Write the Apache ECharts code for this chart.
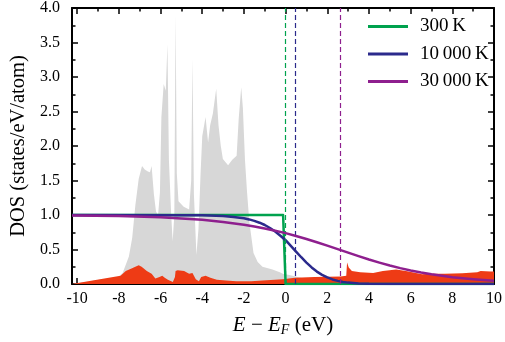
<!DOCTYPE html>
<html>
<head>
<meta charset="utf-8">
<script src="https://cdn.jsdelivr.net/npm/echarts@6/dist/echarts.min.js"></script>
<style>
  html, body { margin: 0; padding: 0; background: #fff; }
  #chart { width: 505px; height: 342px; }
</style>
</head>
<body>
<div id="chart"></div>
<script>
// total DOS (grey)
var dosE = [-10.25, -8.03, -7.82, -7.67, -7.52, -7.36, -7.21, -7.05, -6.89, -6.76, -6.61, -6.51, -6.43, -6.32, -6.22, -6.12,
  -6.03, -5.96, -5.85, -5.75, -5.67, -5.6, -5.49, -5.42, -5.34, -5.28, -5.22, -5.14, -4.89, -4.63, -4.53, -4.47, -4.4,
  -4.28, -4.18, -4.08, -4.0, -3.84, -3.72, -3.62, -3.49, -3.33, -3.22, -3.11, -3.01, -2.76, -2.56, -2.35, -2.25, -2.13,
  -2.05, -1.95, -1.85, -1.74, -1.54, -1.34, -1.11, -0.63, -0.28, -0.13, 0.18, 0.58, 0.89, 1.19, 1.9, 10]
var dosTotal = [0, 0.1, 0.16, 0.28, 0.4, 0.67, 1.14, 1.52, 1.71, 1.66, 1.63, 1.62, 1.71, 1.3, 1.05, 1.0,
  1.33, 2.42, 2.9, 2.8, 3.47, 1.8, 1.0, 0.62, 1.0, 3.9, 1.6, 1.2, 1.12, 1.08, 1.5, 3.26, 1.3,
  0.42, 0.8, 1.6, 2.14, 2.42, 2.05, 2.3, 2.47, 2.83, 2.3, 2.0, 1.81, 1.72, 1.8, 1.86, 2.4, 2.85,
  2.55, 1.8, 1.33, 0.9, 0.45, 0.32, 0.25, 0.21, 0.17, 0.15, 0.13, 0.1, 0.08, 0.05, 0.04, 0.04]

// partial DOS (red)
var pdosE = [-10.25, -7.92, -7.67, -7.42, -7.21, -7.05, -6.91, -6.66, -6.43, -6.25, -6.19, -6.05, -5.92, -5.8, -5.65,
  -5.41, -5.31, -5.28, -5.18, -4.87, -4.63, -4.47, -4.31, -4.16, -4.05, -3.84, -3.61, -3.3, -2.86, -2.36, -1.65,
  -1.11, -0.13, 0.45, 1.39, 2.64, 2.91, 2.95, 3.03, 3.18, 3.58, 4.2, 4.67, 4.99, 5.3, 5.77, 6.07, 6.55, 6.96,
  7.64, 8.48, 9.2, 9.36, 9.83, 10]
var pdosValues = [0, 0.12, 0.19, 0.22, 0.25, 0.27, 0.25, 0.19, 0.15, 0.08, 0.07, 0.1, 0.12, 0.09, 0.06,
  0.03, 0.1, 0.19, 0.2, 0.19, 0.15, 0.16, 0.07, 0.04, 0.1, 0.12, 0.09, 0.06, 0.05, 0.04, 0.04,
  0.05, 0.07, 0.09, 0.1, 0.11, 0.12, 0.31, 0.24, 0.19, 0.17, 0.16, 0.19, 0.2, 0.21, 0.19, 0.17, 0.14, 0.15,
  0.15, 0.155, 0.17, 0.19, 0.18, 0.18]

// occupation curves
var e300 = [-10.25, -0.12, 0, 10]
var f300 = [1, 1, 0, 0]
var e10k = [-10.25, -5, -4, -3, -2.5, -2, -1.75, -1.5, -1.25, -1, -0.75, -0.5, -0.25, 0, 0.25, 0.5, 0.75,
  1, 1.25, 1.5, 1.75, 2, 2.25, 2.5, 2.75, 3, 3.5, 4, 5, 6, 10]
var f10k = [1, 0.998, 0.995, 0.985, 0.972, 0.952, 0.936, 0.915, 0.888, 0.855, 0.812, 0.76, 0.7, 0.635, 0.553, 0.47, 0.388,
  0.31, 0.24, 0.18, 0.133, 0.095, 0.066, 0.045, 0.03, 0.02, 0.009, 0.004, 0.001, 0, 0]
var e30k = [-10.25, -8, -6, -5, -4, -3, -2, -1.5, -1, -0.5, 0, 0.5, 1, 1.5, 2, 2.5, 3, 3.5, 4, 4.5, 5,
  5.5, 6, 6.5, 7, 7.5, 8, 8.5, 9, 9.5, 10]
var f30k = [0.994, 0.985, 0.967, 0.951, 0.93, 0.9, 0.86, 0.834, 0.805, 0.772, 0.737, 0.696, 0.652, 0.606, 0.557, 0.506,
  0.455, 0.404, 0.355, 0.31, 0.268, 0.23, 0.196, 0.166, 0.14, 0.118, 0.098, 0.082, 0.068, 0.057, 0.047]

var chemPot = [0, 0.48, 2.64]
var tempNames = ['300\u2009K', '10\u2009000\u2009K', '30\u2009000\u2009K']
var curveColors = ['#00a24e', '#2b2a8c', '#8e1f8e']

var xMajor = [-10, -8, -6, -4, -2, 0, 2, 4, 6, 8, 10]
var xMinor = [-9, -7, -5, -3, -1, 1, 3, 5, 7, 9]

var serif = 'Liberation Serif'

function pairs(xs, ys) {
  return xs.map(function (x, i) { return [x, ys[i]] })
}

function xAxisOf(pos, ticks, len, showLine, showLabel) {
  return {
    type: 'value', position: pos, min: -10.25, max: 10,
    axisLine: { show: showLine, onZero: false, lineStyle: { color: '#000', width: 2 } },
    axisTick: { show: true, inside: true, length: len, customValues: ticks, lineStyle: { color: '#000', width: 1.5 } },
    axisLabel: {
      show: showLabel, customValues: ticks, margin: 7,
      fontFamily: serif, fontSize: 16, color: '#000'
    },
    splitLine: { show: false }
  }
}

function yAxisOf(pos, showLabel) {
  return {
    type: 'value', position: pos, min: 0, max: 4, interval: 0.5,
    axisLine: { show: true, onZero: false, lineStyle: { color: '#000', width: 2 } },
    axisTick: { show: true, inside: true, length: 6, lineStyle: { color: '#000', width: 1.5 } },
    minorTick: { show: true, splitNumber: 2, length: 3.5, lineStyle: { color: '#000', width: 1.5 } },
    axisLabel: {
      show: showLabel, margin: 12, fontFamily: serif, fontSize: 16, color: '#000',
      formatter: function (v) { return v.toFixed(1) }
    },
    splitLine: { show: false }
  }
}

function curve(i, xs, ys) {
  return {
    name: tempNames[i], type: 'line', data: pairs(xs, ys),
    smooth: false, showSymbol: false, color: curveColors[i],
    lineStyle: { color: curveColors[i], width: 2.5, join: 'round' },
    z: 3 + i,
    markLine: {
      silent: true, symbol: 'none', label: { show: false },
      lineStyle: { color: curveColors[i], type: [5, 3], width: 1.2 },
      data: [{ xAxis: chemPot[i] }]
    }
  }
}

var chart = echarts.init(document.getElementById('chart'))
var bottomAxis = xAxisOf('bottom', xMajor, 6, true, true)
bottomAxis.name = '{it|E} \u2212 {it|E}{sub|F} (eV)'
bottomAxis.nameLocation = 'middle'
bottomAxis.nameGap = 29
bottomAxis.nameTextStyle = {
  fontFamily: serif, fontSize: 21, color: '#000',
  rich: {
    it: { fontFamily: serif, fontSize: 21, fontStyle: 'italic', color: '#000' },
    sub: { fontFamily: serif, fontSize: 14, fontStyle: 'italic', color: '#000', padding: [10, 0, 0, 0] }
  }
}
var leftAxis = yAxisOf('left', true)
leftAxis.name = 'DOS (states/eV/atom)'
leftAxis.nameLocation = 'middle'
leftAxis.nameGap = 43
leftAxis.nameTextStyle = { fontFamily: serif, fontSize: 20.5, color: '#000' }

chart.setOption({
  animation: false,
  grid: { left: 65, right: 8, top: 6, bottom: 55 },
  legend: {
    orient: 'vertical', left: 363, top: 12,
    icon: 'rect', itemWidth: 40, itemHeight: 3, itemGap: 8.5,
    selectedMode: false,
    textStyle: { fontFamily: serif, fontSize: 19, color: '#000', lineHeight: 19, padding: [0, 0, 0, 7] },
    data: tempNames
  },
  xAxis: [
    bottomAxis,
    xAxisOf('top', xMajor, 6, true, false),
    xAxisOf('bottom', xMinor, 3.5, false, false),
    xAxisOf('top', xMinor, 3.5, false, false)
  ],
  yAxis: [leftAxis, yAxisOf('right', false)],
  series: [
    {
      name: 'total', type: 'line', data: pairs(dosE, dosTotal), showSymbol: false,
      lineStyle: { width: 0, opacity: 0 }, areaStyle: { color: '#d7d7d7', opacity: 1 }, z: 1
    },
    {
      name: 'partial', type: 'line', data: pairs(pdosE, pdosValues), showSymbol: false,
      lineStyle: { width: 0, opacity: 0 }, areaStyle: { color: '#ee3b15', opacity: 1 }, z: 2
    },
    curve(0, e300, f300),
    curve(1, e10k, f10k),
    curve(2, e30k, f30k)
  ]
})
</script>
</body>
</html>
